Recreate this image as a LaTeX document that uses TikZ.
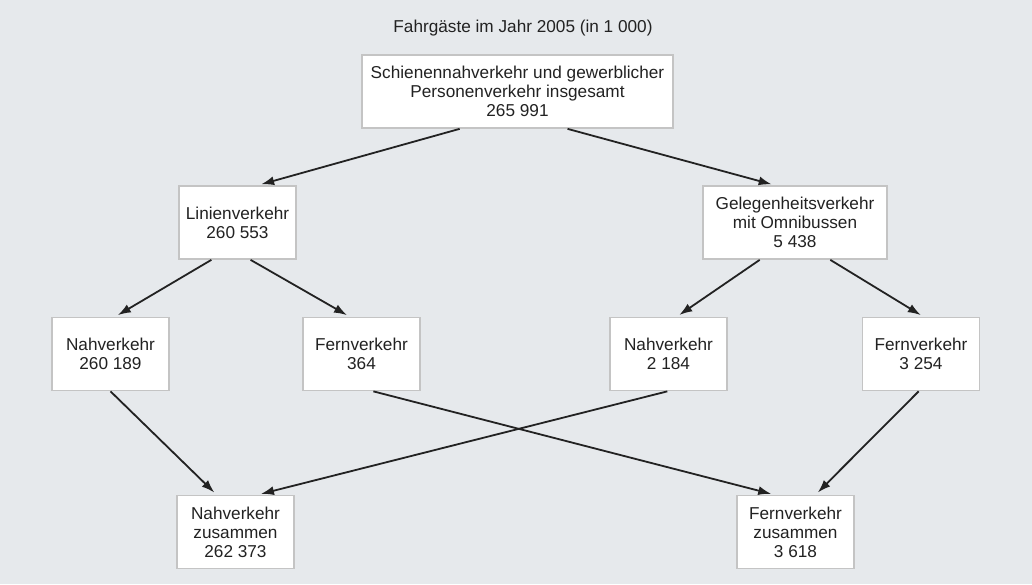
\documentclass[tikz,border=0pt]{standalone}
\usepackage{fontspec}
\setmainfont{Liberation Sans}
\usetikzlibrary{calc,arrows.meta}
\definecolor{bggrey}{HTML}{E6E9EC}
\definecolor{boxline}{HTML}{C4C4C4}
\definecolor{txt}{HTML}{222222}
\tikzset{
  box/.style={draw=boxline, line width=1.7pt, fill=white, align=center,
    minimum width=117pt, minimum height=73pt, inner sep=2pt, text=txt,
    font=\fontsize{17.2}{19}\selectfont},
  arr/.style={-{Latex[length=13pt,width=9pt]}, line width=1.8pt, draw=txt, shorten >=3pt}
}
\begin{document}
\begin{tikzpicture}[x=1pt, y=-1pt]
    \fill[bggrey] (0,0) rectangle (1032,584);
    \useasboundingbox (0,0) rectangle (1032,584);

    \node[text=txt, font=\fontsize{17.2}{19}\selectfont] (title) at (523, 28) {Fahrgäste im Jahr 2005 (in 1 000)};

    \node[box, minimum width=311pt] (ges) at (517.5, 91.5) {Schienennahverkehr und gewerblicher\\Personenverkehr insgesamt\\265 991};

    \node[box] (lin) at (237.5, 222.5) {Linienverkehr\\260 553};
    \node[box, minimum width=184pt] (gel) at (795, 222.5) {Gelegenheitsverkehr\\mit Omnibussen\\5 438};

    \node[box] (linNah) at (110.5, 354) {Nahverkehr\\260 189};
    \node[box] (linFern) at (361.5, 354) {Fernverkehr\\364};
    \node[box] (gelNah) at (668.5, 354) {Nahverkehr\\2 184};
    \node[box] (gelFern) at (921, 354) {Fernverkehr\\3 254};

    \node[box] (sumNah) at (235.5, 532) {Nahverkehr\\zusammen\\262 373};
    \node[box] (sumFern) at (795.5, 532) {Fernverkehr\\zusammen\\3 618};

    % Arrows
    \draw[arr] ($(ges.south west)!0.315!(ges.south east)$) -- ($(lin.north west)!0.675!(lin.north east)$);
    \draw[arr] ($(ges.south west)!0.66!(ges.south east)$) -- ($(gel.north west)!0.39!(gel.north east)$);

    \draw[arr] ($(lin.south west)!0.28!(lin.south east)$) -- ($(linNah.north west)!0.54!(linNah.north east)$);
    \draw[arr] ($(lin.south west)!0.61!(lin.south east)$) -- ($(linFern.north west)!0.40!(linFern.north east)$);
    \draw[arr] ($(gel.south west)!0.31!(gel.south east)$) -- ($(gelNah.north west)!0.57!(gelNah.north east)$);
    \draw[arr] ($(gel.south west)!0.69!(gel.south east)$) -- ($(gelFern.north west)!0.52!(gelFern.north east)$);

    \draw[arr] ($(linNah.south west)!0.5!(linNah.south east)$) -- ($(sumNah.north west)!0.34!(sumNah.north east)$);
    \draw[arr] ($(gelNah.south west)!0.49!(gelNah.south east)$) -- ($(sumNah.north west)!0.69!(sumNah.north east)$);
    \draw[arr] ($(linFern.south west)!0.6!(linFern.south east)$) -- ($(sumFern.north west)!0.32!(sumFern.north east)$);
    \draw[arr] ($(gelFern.south west)!0.48!(gelFern.south east)$) -- ($(sumFern.north west)!0.67!(sumFern.north east)$);

\end{tikzpicture}
\end{document}
